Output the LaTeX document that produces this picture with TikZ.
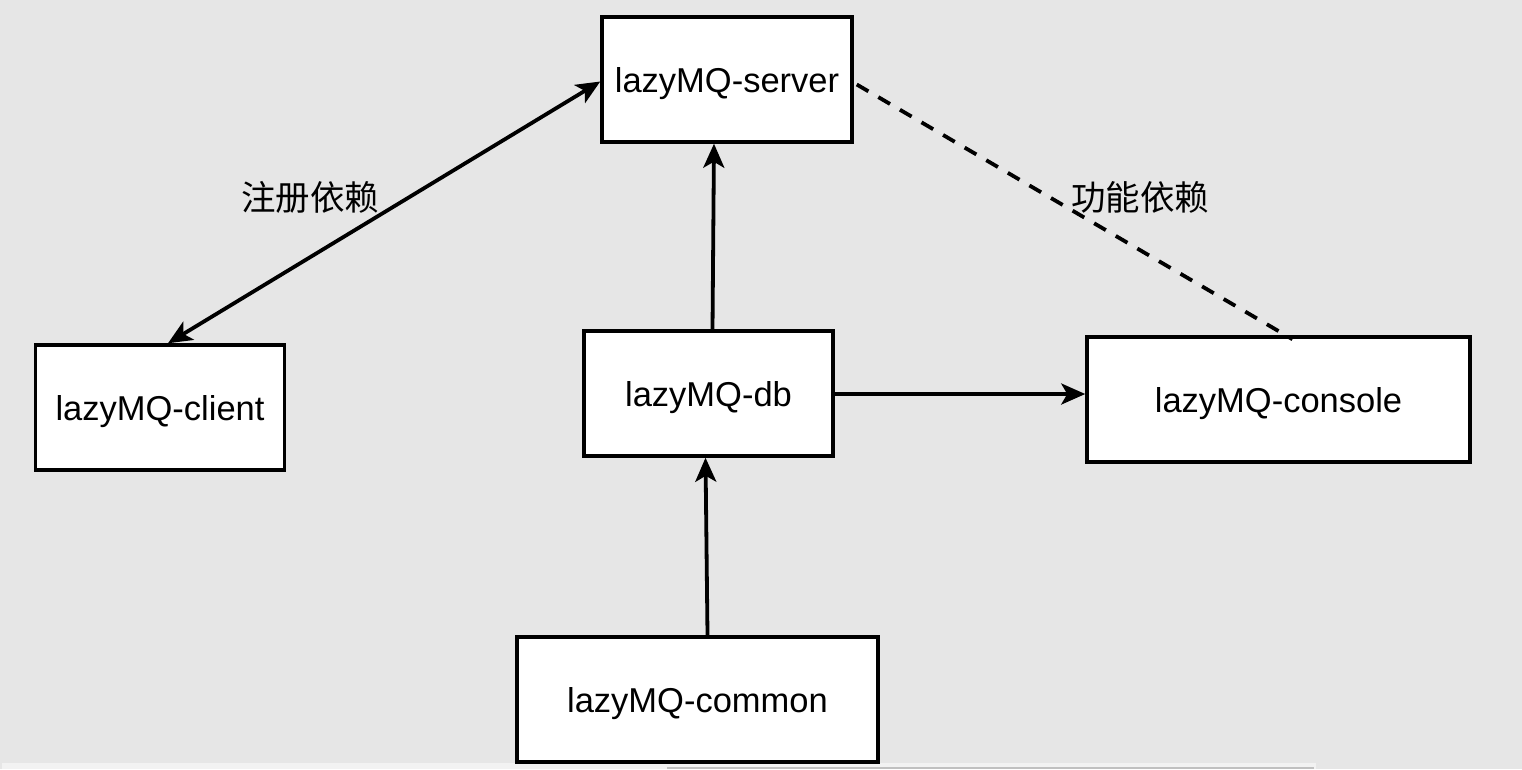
\documentclass[tikz,border=0pt]{standalone}
\usepackage{fontspec}
\setmainfont{Liberation Sans}
\newfontfamily\cjk{Noto Sans CJK SC}
\usetikzlibrary{arrows.meta}
\definecolor{bg}{HTML}{E6E6E6}
\definecolor{strip}{HTML}{F2F2F2}
\definecolor{sbar}{HTML}{C0C0C0}
\newcommand{\dn}[1]{\raisebox{-4pt}[\height][\depth]{#1}}
\tikzset{
  box/.style={draw=black, fill=white, line width=3.5pt, rectangle, inner sep=0pt,
    font=\fontsize{34.5}{40}\selectfont},
  conn/.style={line width=3.8pt, draw=black},
  tip/.style={-{Stealth[length=24pt,width=21pt,inset=6pt]}},
  dtip/.style={{Stealth[length=24pt,width=21pt,inset=6pt]}-{Stealth[length=24pt,width=21pt,inset=6pt]}},
  lbl/.style={font=\cjk\fontsize{34.5}{40}\selectfont, inner sep=0pt}
}
\begin{document}
\begin{tikzpicture}[x=1pt,y=-1pt]
\useasboundingbox (0,0) rectangle (1522,769);
\fill[bg] (0,0) rectangle (1522,769);
\fill[strip] (2,763) rectangle (1316,769);
\fill[sbar] (667,766.5) rectangle (1314,768.5);

\node[box, minimum width=250pt, minimum height=125pt] (server) at (727,79.5) {\dn{lazyMQ-server}};
\node[box, minimum width=249pt, minimum height=125pt] (client) at (160,407.5) {\dn{lazyMQ-client}};
\node[box, minimum width=249pt, minimum height=125pt] (db) at (708.5,393.5) {\dn{lazyMQ-db}};
\node[box, minimum width=383pt, minimum height=125pt] (console) at (1278.5,399.5) {\dn{lazyMQ-console}};
\node[box, minimum width=361pt, minimum height=125pt] (common) at (697.5,699.5) {\dn{lazyMQ-common}};

\node[lbl] (l1) at (310,197) {注册依赖};
\node[lbl] (l2) at (1140,197) {功能依赖};

\draw[conn, dtip] ([xshift=8pt]client.north) -- ([yshift=-2pt]server.west);
\draw[conn, tip] ([xshift=4pt]db.north) -- ([xshift=-13pt]server.south);
\draw[conn, tip] ([yshift=-0.5pt]db.east) -- ([yshift=5.5pt]console.west);
\draw[conn, tip] ([xshift=10pt]common.north) -- ([xshift=-3pt]db.south);
\draw[conn, dash pattern=on 13.5pt off 11.5pt] ([xshift=3pt,yshift=-5pt]server.east) -- ([xshift=14pt,yshift=-4pt]console.north);
\end{tikzpicture}
\end{document}
